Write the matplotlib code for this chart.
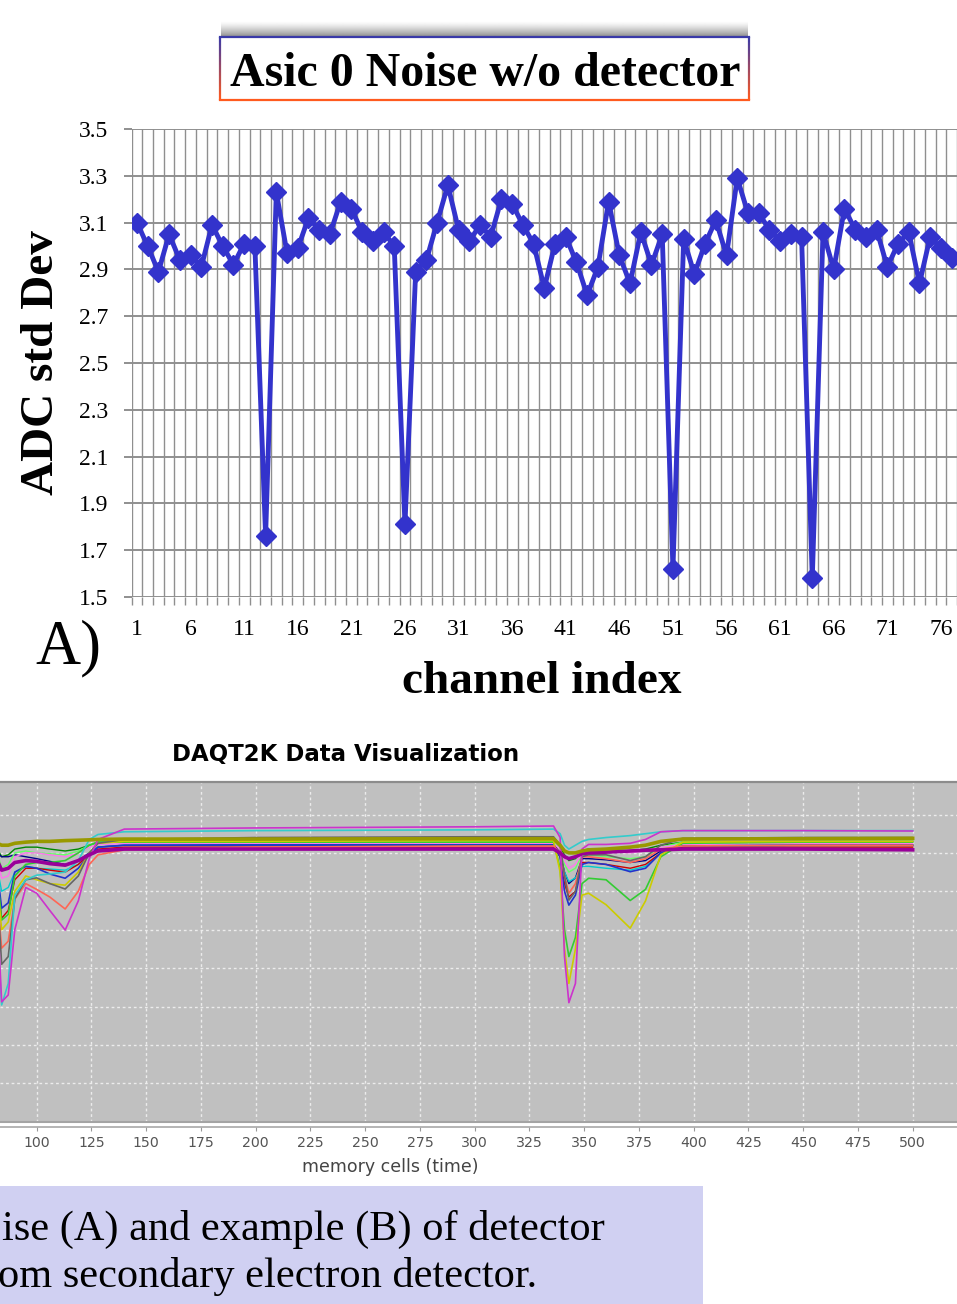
import numpy as np
import matplotlib.pyplot as plt
from matplotlib.collections import LineCollection
from matplotlib.ticker import FormatStrFormatter

W, H = 957, 1304

# ---- panel A: ADC noise per channel
channels = np.arange(1, 78)
adc_std = [3.10, 3.00, 2.89, 3.05, 2.94, 2.96, 2.91, 3.09, 3.00, 2.92,
           3.01, 3.00, 1.76, 3.23, 2.97, 2.99, 3.12, 3.07, 3.05, 3.19,
           3.16, 3.06, 3.02, 3.06, 3.00, 1.81, 2.89, 2.94, 3.10, 3.26,
           3.07, 3.02, 3.09, 3.04, 3.20, 3.18, 3.09, 3.01, 2.82, 3.01,
           3.04, 2.93, 2.79, 2.91, 3.19, 2.96, 2.84, 3.06, 2.92, 3.05,
           1.62, 3.03, 2.88, 3.01, 3.11, 2.96, 3.29, 3.14, 3.14, 3.07,
           3.02, 3.05, 3.04, 1.58, 3.06, 2.90, 3.16, 3.07, 3.04, 3.07,
           2.91, 3.01, 3.06, 2.84, 3.04, 2.99, 2.95]
y_ticks_a = [1.5, 1.7, 1.9, 2.1, 2.3, 2.5, 2.7, 2.9, 3.1, 3.3, 3.5]
x_ticks_a = list(range(1, 77, 5))

# ---- panel B: waveforms (memory cell vs ADC, grid units)
cells = [60, 80, 82, 84, 87, 90, 95, 100, 106, 113, 119, 124, 128, 140, 200,
         300, 336, 339, 341, 343, 346, 349, 352, 360, 371, 378, 385, 395, 450, 500]
tr_magenta = [7.25, 7.25, 5.5, 3.12, 3.3, 5.0, 6.1, 5.95, 5.5, 4.99, 5.75, 6.85, 7.35, 7.62, 7.65,
              7.68, 7.70, 7.4, 4.3, 3.1, 3.6, 7.1, 7.22, 7.22, 7.25, 7.35, 7.55, 7.58, 7.58, 7.57]
tr_cyan = [7.25, 7.25, 5.0, 3.04, 3.6, 5.9, 6.3, 6.42, 6.45, 6.5, 6.8, 7.35, 7.48, 7.55, 7.58,
           7.60, 7.62, 7.5, 7.2, 7.1, 7.2, 7.3, 7.35, 7.4, 7.45, 7.5, 7.55, 7.58, 7.58, 7.58]
tr_gray = [7.25, 7.25, 6.0, 4.1, 4.3, 5.8, 6.3, 6.35, 6.2, 6.06, 6.4, 7.0, 7.25, 7.35, 7.4,
           7.42, 7.42, 7.2, 6.4, 5.77, 6.0, 6.9, 6.95, 6.95, 6.8, 6.9, 7.2, 7.38, 7.4, 7.4]
tr_salmon = [7.2, 7.2, 5.8, 4.52, 4.7, 5.8, 6.2, 6.05, 5.85, 5.54, 6.0, 6.7, 6.95, 7.08, 7.15,
             7.18, 7.18, 7.0, 6.4, 5.95, 6.2, 6.9, 6.9, 6.85, 6.75, 6.85, 7.1, 7.18, 7.2, 7.2]
tr_yellow = [7.3, 7.3, 6.2, 5.0, 5.2, 6.0, 6.4, 6.3, 6.2, 6.16, 6.5, 7.0, 7.25, 7.3, 7.3,
             7.32, 7.32, 6.5, 4.5, 3.6, 4.5, 5.9, 5.95, 5.65, 5.04, 5.75, 6.95, 7.28, 7.3, 7.3]
tr_green = [7.28, 7.28, 6.4, 5.25, 5.4, 6.4, 6.7, 6.75, 6.75, 6.8, 7.0, 7.2, 7.28, 7.28, 7.28,
            7.28, 7.28, 6.6, 5.0, 4.3, 4.8, 6.2, 6.34, 6.3, 5.76, 6.05, 6.9, 7.25, 7.28, 7.28]
tr_blue = [7.2, 7.2, 6.5, 5.56, 5.7, 6.5, 6.65, 6.6, 6.45, 6.34, 6.6, 6.95, 7.15, 7.2, 7.2,
           7.2, 7.2, 6.9, 6.0, 5.64, 5.9, 6.7, 6.75, 6.7, 6.51, 6.6, 7.0, 7.18, 7.2, 7.2]
tr_pink = [7.25, 7.25, 6.9, 6.34, 6.4, 6.9, 7.0, 7.0, 6.95, 6.9, 7.0, 7.15, 7.22, 7.24, 7.25,
           7.25, 7.25, 7.1, 6.8, 6.6, 6.7, 7.0, 7.05, 7.05, 7.0, 7.05, 7.15, 7.22, 7.24, 7.24]
tr_navy = [7.22, 7.22, 7.0, 6.9, 6.9, 6.95, 6.9, 6.85, 6.78, 6.7, 6.8, 7.0, 7.15, 7.2, 7.22,
           7.22, 7.22, 7.0, 6.5, 6.2, 6.35, 6.85, 6.85, 6.82, 6.75, 6.8, 7.05, 7.18, 7.2, 7.2]
tr_lime = [7.3, 7.3, 7.0, 6.6, 6.7, 7.0, 7.05, 7.0, 6.98, 6.95, 7.05, 7.2, 7.28, 7.3, 7.3,
           7.3, 7.3, 7.1, 6.7, 6.5, 6.6, 6.95, 6.95, 6.9, 6.85, 6.9, 7.15, 7.28, 7.3, 7.3]
tr_red = [7.15, 7.15, 6.3, 5.3, 5.5, 6.3, 6.6, 6.6, 6.55, 6.5, 6.7, 6.95, 7.1, 7.15, 7.15,
          7.15, 7.15, 6.9, 6.2, 5.85, 6.0, 6.75, 6.75, 6.7, 6.6, 6.7, 7.0, 7.15, 7.15, 7.15]
tr_teal = [7.2, 7.2, 6.6, 6.0, 6.1, 6.5, 6.65, 6.6, 6.58, 6.55, 6.7, 7.0, 7.15, 7.2, 7.2,
           7.2, 7.2, 6.9, 6.5, 6.25, 6.35, 6.65, 6.65, 6.6, 6.55, 6.65, 7.0, 7.18, 7.2, 7.2]
tr_dkgreen = [7.3, 7.3, 7.1, 6.9, 6.95, 7.1, 7.15, 7.15, 7.1, 7.05, 7.1, 7.2, 7.28, 7.3, 7.3,
              7.3, 7.3, 7.15, 6.95, 6.8, 6.85, 7.05, 7.1, 7.1, 7.05, 7.1, 7.2, 7.28, 7.3, 7.3]
tr_purple = [7.12, 7.12, 6.8, 6.55, 6.6, 6.75, 6.8, 6.78, 6.72, 6.68, 6.8, 6.95, 7.05, 7.1, 7.1,
             7.1, 7.1, 7.0, 6.9, 6.85, 6.9, 6.98, 7.0, 7.02, 7.05, 7.07, 7.08, 7.1, 7.1, 7.08]
tr_olive = [7.35, 7.35, 7.25, 7.2, 7.2, 7.25, 7.28, 7.3, 7.3, 7.32, 7.33, 7.34, 7.35, 7.36, 7.36,
            7.37, 7.37, 7.2, 7.05, 7.0, 7.0, 7.05, 7.08, 7.1, 7.15, 7.2, 7.3, 7.36, 7.37, 7.38]
x_ticks_b = list(range(100, 501, 25))

traces = [(tr_dkgreen, '#008800', 1.0), (tr_navy, '#000088', 1.0), (tr_lime, '#66ff66', 1.0),
          (tr_pink, '#ff77ee', 1.0), (tr_teal, '#00cccc', 1.0), (tr_red, '#cc0000', 1.0),
          (tr_blue, '#2233cc', 1.2), (tr_green, '#33cc33', 1.2), (tr_yellow, '#cccc00', 1.2),
          (tr_salmon, '#ff6655', 1.2), (tr_gray, '#666666', 1.2), (tr_cyan, '#33cccc', 1.2),
          (tr_magenta, '#cc33cc', 1.2), (tr_purple, '#990099', 2.6), (tr_olive, '#999900', 2.6)]

fig = plt.figure(figsize=(W / 100, H / 100), dpi=100)

# overlay in pixel coordinates for the slide decorations
ov = fig.add_axes([0, 0, 1, 1])
ov.set_xlim(0, W)
ov.set_ylim(H, 0)
ov.axis('off')

# title box with shadow and gradient border
shade = np.zeros((30, 1, 4))
shade[:, 0, :3] = 0.4
shade[:, 0, 3] = np.linspace(0, 0.8, 30) ** 1.3
ov.imshow(shade, extent=[221, 748, 37, 21], aspect='auto', interpolation='bilinear', origin='upper')
ov.plot([220, 749], [37, 37], color='#3a3aa8', lw=1.6)
ov.plot([220, 749], [100, 100], color='#ff5a1e', lw=1.6)
ys = np.linspace(37, 100, 41)
top_c = np.array([0.23, 0.23, 0.66])
bot_c = np.array([1.0, 0.35, 0.12])
for xs in (220, 749):
    segs = [[(xs, ys[i]), (xs, ys[i + 1])] for i in range(len(ys) - 1)]
    cols = [top_c + (bot_c - top_c) * i / (len(segs) - 1) for i in range(len(segs))]
    ov.add_collection(LineCollection(segs, colors=cols, lw=1.6))
ov.text(485, 86, 'Asic 0 Noise w/o detector', ha='center', va='baseline',
        fontsize=34.5, fontweight='bold', family='Liberation Serif')
ov.text(35, 663, 'A)', ha='left', va='baseline', fontsize=45, family='Liberation Serif')

# caption box
ov.add_patch(plt.Rectangle((0, 1186), 703, 120, color='#d0d0f2', lw=0))
ov.text(2, 1240, 'ise (A) and example (B) of detector', ha='left', va='baseline',
        fontsize=30.5, family='Liberation Serif')
ov.text(-2, 1287, 'om secondary electron detector.', ha='left', va='baseline',
        fontsize=30.5, family='Liberation Serif')
ov.text(346, 755, 'DAQT2K Data Visualization', ha='center', va='center',
        fontsize=16.5, fontweight='bold', family='DejaVu Sans')

# ---- panel A
x0, step = 131.6, 10.8
ax = fig.add_axes([x0 / W, 1 - 597 / H, (W - x0) / W, 468 / H])
ax.plot(channels, adc_std, color='#3333cc', lw=3.5, marker='D', ms=10, zorder=3)
ax.set_xlim(0.5, 0.5 + (W - x0) / step)
ax.set_ylim(1.5, 3.5)
ax.set_yticks(y_ticks_a)
ax.yaxis.set_major_formatter(FormatStrFormatter('%.1f'))
ax.set_xticks(x_ticks_a)
ax.set_xticks(np.arange(0.5, 78, 1), minor=True)
ax.grid(axis='y', which='major', color='#8f8f8f', lw=1.4)
ax.grid(axis='x', which='minor', color='#8f8f8f', lw=1.0)
ax.tick_params(axis='x', which='major', length=0, pad=16, labelsize=17)
ax.tick_params(axis='x', which='minor', length=6, color='#8f8f8f', width=1.0)
ax.tick_params(axis='y', length=6, color='#8f8f8f', width=1.4, pad=11, labelsize=17)
for lab in ax.get_xticklabels() + ax.get_yticklabels():
    lab.set_family('Liberation Serif')
for s in ax.spines.values():
    s.set_visible(False)
ax.set_ylabel('ADC std Dev', fontsize=34, fontweight='bold', family='Liberation Serif')
ax.yaxis.set_label_coords((42 - x0) / (W - x0), 0.5)
ax.yaxis.label.set_va('center')
ax.set_xlabel('channel index', fontsize=34, fontweight='bold', family='Liberation Serif')
ax.xaxis.set_label_coords((542 - x0) / (W - x0), -(682 - 597) / 468)
ax.xaxis.label.set_va('center')

# ---- panel B
b_top, b_bot, px_cell, x100, grid_px = 782, 1121.7, 2.19, 36.7, 38.4
axb = fig.add_axes([0, 1 - b_bot / H, 1, (b_bot - b_top) / H])
axb.set_facecolor('#c0c0c0')
for vals, col, lw in traces:
    axb.plot(cells, vals, color=col, lw=lw)
axb.set_xlim(100 - x100 / px_cell, 100 + (W - x100) / px_cell)
axb.set_ylim(0, (b_bot - b_top) / grid_px)
axb.set_xticks(x_ticks_b)
axb.set_yticks(range(0, 9))
axb.set_yticklabels([])
axb.grid(True, color='#ececec', lw=1.0, ls=(0, (2, 2)))
axb.set_axisbelow(True)
axb.axhline(0, color='#a4a4a4', lw=1.5, clip_on=False)
axb.spines['left'].set_visible(False)
axb.spines['right'].set_visible(False)
axb.spines['top'].set_color('#8c8c8c')
axb.spines['top'].set_linewidth(1.6)
axb.spines['bottom'].set_position(('outward', 3.6))
axb.spines['bottom'].set_color('#a8a8a8')
axb.spines['bottom'].set_linewidth(1.2)
axb.tick_params(axis='y', length=0)
axb.tick_params(axis='x', length=3, color='#999999', labelcolor='#555555', labelsize=10.2, pad=4)
axb.set_xlabel('memory cells (time)', fontsize=12.5, color='#444444')
axb.xaxis.set_label_coords(390 / W, -(1167 - b_bot) / (b_bot - b_top))
axb.xaxis.label.set_va('center')

fig.savefig('out.png', dpi=100)
